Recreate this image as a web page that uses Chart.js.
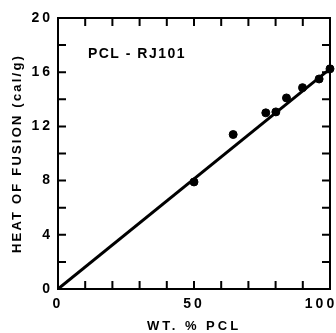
<!DOCTYPE html>
<html><head><meta charset="utf-8">
<script src="https://cdn.jsdelivr.net/npm/chart.js@4/dist/chart.umd.min.js"></script>
<style>html,body{margin:0;padding:0;background:#fff}canvas{display:block}</style>
</head><body>
<canvas id="c" width="336" height="333"></canvas>
<script>
const wtPctPCL = [50, 64.4, 76.4, 80.1, 84, 89.9, 96, 100];
const heatOfFusion = [7.9, 11.4, 13.0, 13.07, 14.1, 14.86, 15.5, 16.25];
const fitX = [0, 100];
const fitY = [0, 16.25];
const xTickLabels = [0, 50, 100];
const yTickLabels = [0, 4, 8, 12, 16, 20];
const annotationText = 'PCL - RJ101';
const FONT = '"Liberation Sans", Arial, sans-serif';

const spacing = {
  id: 'spacing',
  beforeLayout(c) { c.ctx.letterSpacing = '3px'; },
  afterLayout(c) {
    const ys = c.scales.y;
    if (!ys._patched) {
      const orig = ys.drawTitle;
      ys.drawTitle = function () {
        const ctx = this.ctx;
        ctx.letterSpacing = '2.2px';
        orig.apply(this, arguments);
        ctx.letterSpacing = '3px';
      };
      ys._patched = true;
    }
  },
  beforeDraw(c) {
    c.ctx.letterSpacing = '3px';
    const xs = c.scales.x;
    const items = xs.getLabelItems(c.chartArea);
    items.forEach(it => {
      if (it.label === '100' && !it._shifted) {
        it.options.translation = [it.options.translation[0] - 9, it.options.translation[1]];
        it._shifted = true;
      }
    });
  }
};
const frame = {
  id: 'frame',
  afterDatasetsDraw(c) {
    const ctx = c.ctx, a = c.chartArea, xs = c.scales.x, ys = c.scales.y;
    ctx.save();
    ctx.strokeStyle = '#000';
    ctx.lineWidth = 2;
    ctx.strokeRect(a.left, a.top, a.right - a.left, a.bottom - a.top);
    const L = 8;
    ctx.beginPath();
    xs.ticks.forEach(t => {
      const px = xs.getPixelForValue(t.value);
      ctx.moveTo(px, a.bottom); ctx.lineTo(px, a.bottom - L);
      ctx.moveTo(px, a.top); ctx.lineTo(px, a.top + L);
    });
    ys.ticks.forEach(t => {
      const py = ys.getPixelForValue(t.value);
      ctx.moveTo(a.left, py); ctx.lineTo(a.left + L, py);
      ctx.moveTo(a.right, py); ctx.lineTo(a.right - L, py);
    });
    ctx.stroke();
    ctx.letterSpacing = '1.5px';
    ctx.fillStyle = '#000';
    ctx.font = '600 14px ' + FONT;
    ctx.textBaseline = 'alphabetic';
    ctx.textAlign = 'left';
    ctx.fillText(annotationText, xs.getPixelForValue(11), ys.getPixelForValue(17.05));
    ctx.restore();
  }
};

new Chart(document.getElementById('c'), {
  type: 'scatter',
  data: {
    datasets: [
      {
        type: 'line',
        data: fitX.map((x, i) => ({x, y: fitY[i]})),
        borderColor: '#000', borderWidth: 3, pointRadius: 0, fill: false
      },
      {
        data: wtPctPCL.map((x, i) => ({x, y: heatOfFusion[i]})),
        backgroundColor: '#000', borderColor: '#000', pointRadius: 4, clip: false
      }
    ]
  },
  options: {
    responsive: false, animation: false, devicePixelRatio: 1,
    layout: { padding: { top: 18, right: 6, left: 0, bottom: 0 } },
    plugins: { legend: { display: false }, tooltip: { enabled: false } },
    scales: {
      x: {
        type: 'linear', min: 0, max: 100,
        afterFit(s) { s.height = 44; s.paddingLeft = 0; s.paddingRight = 0; },
        grid: { display: false, drawTicks: false },
        border: { display: false },
        ticks: {
          stepSize: 10, padding: 7, color: '#000', maxRotation: 0, autoSkip: false,
          font: { family: FONT, size: 14, weight: '600' },
          callback: v => xTickLabels.includes(v) ? String(v) : ''
        },
        title: {
          display: true, text: 'WT. % PCL', color: '#000',
          font: { family: FONT, size: 13, weight: '600', lineHeight: 1 },
          padding: 0
        }
      },
      y: {
        type: 'linear', min: 0, max: 20,
        afterFit(s) { s.width = 58; s.paddingTop = 0; s.paddingBottom = 0; },
        grid: { display: false, drawTicks: false },
        border: { display: false },
        ticks: {
          stepSize: 2, padding: 5, color: '#000', autoSkip: false,
          font: { family: FONT, size: 14, weight: '600' },
          callback: v => yTickLabels.includes(v) ? String(v) : ''
        },
        title: {
          display: true, text: 'HEAT OF FUSION (cal/g)', color: '#000',
          font: { family: FONT, size: 13, weight: '600', lineHeight: 1 },
          padding: { top: 11, bottom: 0 }
        }
      }
    }
  },
  plugins: [spacing, frame]
});
</script>
</body></html>
